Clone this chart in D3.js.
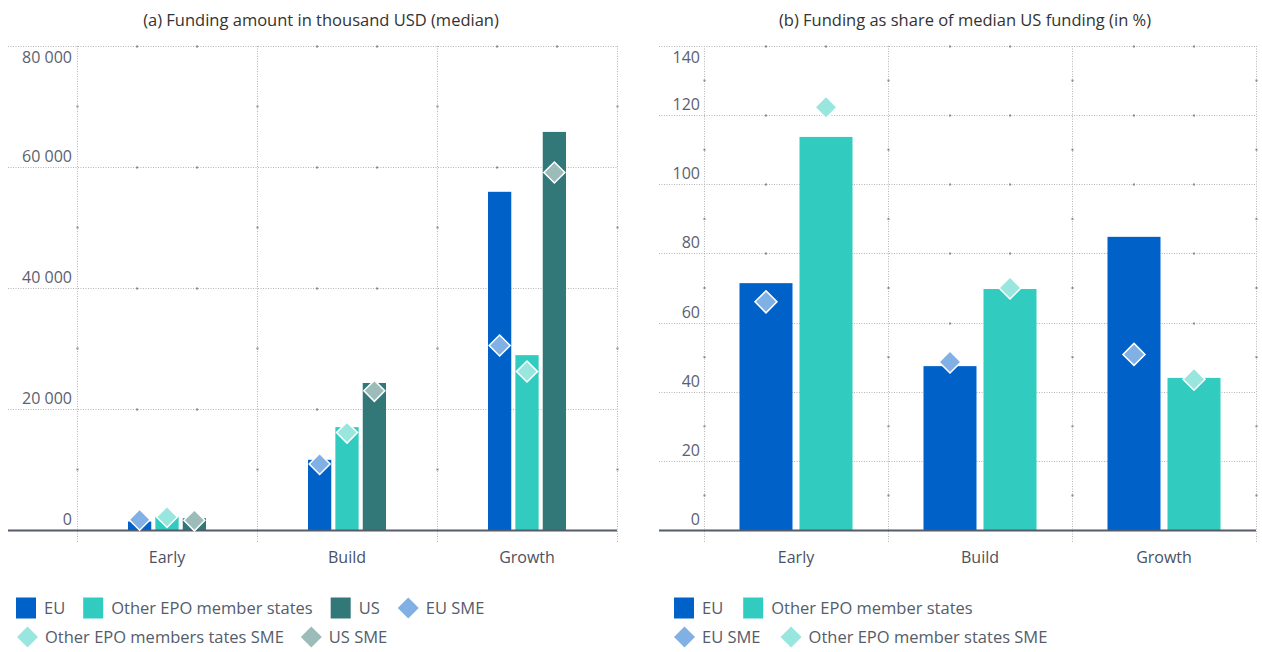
<!DOCTYPE html>
<html>
<head>
<meta charset="utf-8">
<script src="https://cdn.jsdelivr.net/npm/d3@7"></script>
<style>
  html, body { margin: 0; padding: 0; background: #fff; }
  svg { display: block; }
  text { font-family: "Open Sans", "Noto Sans", sans-serif; }
</style>
</head>
<body>
<svg id="chart" width="1262" height="652"></svg>
<script>
// ---------- DATA ----------
const categories = ["Early", "Build", "Growth"];

// Panel (a): funding amount in thousand USD (median)
const amountTicks = [0, 20000, 40000, 60000, 80000];
const euAmount = [1400, 11600, 55900];
const otherAmount = [2200, 17000, 28900];
const usAmount = [1950, 24300, 65800];
const euSmeAmount = [1700, 10900, 30500];
const otherSmeAmount = [2150, 16100, 26200];
const usSmeAmount = [1600, 23000, 59100];

// Panel (b): funding as share of median US funding (in %)
const shareTicks = [0, 20, 40, 60, 80, 100, 120, 140];
const euShare = [71.4, 47.4, 84.8];
const otherShare = [113.7, 69.7, 44.0];
const euSmeShare = [66.0, 48.6, 50.8];
const otherSmeShare = [122.3, 70.0, 43.6];

const titleA = "(a) Funding amount in thousand USD (median)";
const titleB = "(b) Funding as share of median US funding (in %)";
const legendA1 = ["EU", "Other EPO member states", "US", "EU SME"];
const legendA2 = ["Other EPO members tates SME", "US SME"];
const legendB1 = ["EU", "Other EPO member states"];
const legendB2 = ["EU SME", "Other EPO member states SME"];

// ---------- STYLE ----------
const C = {
  eu: "#0062c8", other: "#31cbbf", us: "#327878",
  euSme: "#80b0e4", otherSme: "#98e6de", usSme: "#9bbcb9",
  grid: "#b4b4b8", gridMark: "#8a8a90", base: "#555b68",
  tick: "#5a6170", title: "#333333", cat: "#4a5162", legend: "#555c6a"
};

const svg = d3.select("#chart");
const fmt = v => d3.format(",")(v).replace(/,/g, " ");

function diamond(size) {
  const s = size / Math.SQRT2;
  return d3.symbol().type(d3.symbolSquare).size(s * s)();
}

function panel(opts) {
  const g = svg.append("g");
  const y = d3.scaleLinear().domain(opts.domain).range([530, 46]);
  const x = d3.scaleBand().domain(categories).range(opts.xRange).padding(0);
  const inner = d3.scaleBand().domain(opts.series.map(s => s.key))
    .range(opts.innerRange).paddingInner(opts.innerPad).paddingOuter(0);

  // horizontal grid
  g.selectAll(".hgrid").data(opts.ticks.filter(t => t > 0)).join("line")
    .attr("x1", opts.gridLeft).attr("x2", opts.xRange[1])
    .attr("y1", d => Math.round(y(d)) + 0.5).attr("y2", d => Math.round(y(d)) + 0.5)
    .attr("stroke", C.grid).attr("stroke-width", 1).attr("stroke-dasharray", "1,1.5");

  // vertical grid at category boundaries
  const bounds = [opts.xRange[0]].concat(categories.map(c => x(c) + x.bandwidth()));
  g.selectAll(".vgrid").data(bounds).join("line")
    .attr("x1", d => Math.round(d) + 0.5).attr("x2", d => Math.round(d) + 0.5)
    .attr("y1", y(opts.domain[1])).attr("y2", 543)
    .attr("stroke", C.grid).attr("stroke-width", 1).attr("stroke-dasharray", "1,1.5");

  // small marks on grid lines
  const marksX = [];
  categories.forEach(c => { const cx = x(c) + x.bandwidth() / 2; marksX.push(cx - 30, cx + 30); });
  opts.ticks.filter(t => t > 0).forEach(t => {
    marksX.forEach(mx => g.append("rect").attr("x", mx - 1).attr("y", Math.round(y(t)) - 0.5)
      .attr("width", 2).attr("height", 2).attr("fill", C.gridMark));
  });
  for (let i = 0; i < opts.ticks.length - 1; i++) {
    const my = (y(opts.ticks[i]) + y(opts.ticks[i + 1])) / 2;
    bounds.forEach(bx => g.append("rect").attr("x", Math.round(bx) - 0.5).attr("y", my - 1)
      .attr("width", 2).attr("height", 2).attr("fill", C.gridMark));
  }

  // tick labels
  g.selectAll(".tl").data(opts.ticks).join("text")
    .attr("x", opts.labelX)
    .attr("y", (d, i) => i === opts.ticks.length - 1 ? y(d) + 17 : y(d) - 5)
    .attr("text-anchor", "end").attr("font-size", 16).attr("fill", C.tick)
    .text(d => fmt(d));

  // bars
  opts.series.forEach(s => {
    g.selectAll(null).data(s.values).join("rect")
      .attr("x", (d, i) => x(categories[i]) + x.bandwidth() / 2 + inner(s.key))
      .attr("y", d => y(d)).attr("width", inner.bandwidth())
      .attr("height", d => y(0) - y(d)).attr("fill", s.color);
  });

  // baseline
  g.append("line").attr("x1", opts.gridLeft).attr("x2", opts.xRange[1])
    .attr("y1", 530.5).attr("y2", 530.5).attr("stroke", C.base).attr("stroke-width", 2);

  // SME diamonds
  opts.sme.forEach(s => {
    g.selectAll(null).data(s.values).join("path")
      .attr("d", diamond(opts.dSize))
      .attr("transform", (d, i) => `translate(${x(categories[i]) + x.bandwidth() / 2 + inner(s.key) + inner.bandwidth() / 2},${y(d)}) rotate(45)`)
      .attr("fill", s.color).attr("stroke", "#fff").attr("stroke-width", 1.5);
  });

  // category labels
  g.selectAll(".cat").data(categories).join("text")
    .attr("x", d => x(d) + x.bandwidth() / 2).attr("y", 563)
    .attr("text-anchor", "middle").attr("font-size", 16).attr("fill", C.cat)
    .text(d => d);

  // title
  g.append("text").attr("x", opts.titleX).attr("y", 26).attr("text-anchor", "middle")
    .attr("font-size", 16.5).attr("fill", C.title).text(opts.title);
}

panel({
  domain: [0, 80000], ticks: amountTicks, xRange: [77, 617], gridLeft: 8, labelX: 72,
  innerRange: [-39, 39], innerPad: 0.15, dSize: 21, titleX: 321, title: titleA,
  series: [
    { key: "EU", values: euAmount, color: C.eu },
    { key: "Other", values: otherAmount, color: C.other },
    { key: "US", values: usAmount, color: C.us }
  ],
  sme: [
    { key: "EU", values: euSmeAmount, color: C.euSme },
    { key: "Other", values: otherSmeAmount, color: C.otherSme },
    { key: "US", values: usSmeAmount, color: C.usSme }
  ]
});

panel({
  domain: [0, 140], ticks: shareTicks, xRange: [704, 1256], gridLeft: 659, labelX: 700,
  innerRange: [-56.5, 56.5], innerPad: 0.1167, dSize: 22, titleX: 965, title: titleB,
  series: [
    { key: "EU", values: euShare, color: C.eu },
    { key: "Other", values: otherShare, color: C.other }
  ],
  sme: [
    { key: "EU", values: euSmeShare, color: C.euSme },
    { key: "Other", values: otherSmeShare, color: C.otherSme }
  ]
});

// ---------- LEGENDS ----------
function legendRow(x0, yc, labels, kinds, colors, gaps) {
  const g = svg.append("g");
  let x = x0;
  labels.forEach((lab, i) => {
    if (kinds[i] === "sq") {
      g.append("rect").attr("x", x).attr("y", yc - 10.5).attr("width", 20).attr("height", 21).attr("fill", colors[i]);
    } else {
      g.append("path").attr("d", diamond(21)).attr("transform", `translate(${x + 10.5},${yc}) rotate(45)`).attr("fill", colors[i]);
    }
    const t = g.append("text").attr("x", x + 28).attr("y", yc + 6).attr("font-size", 16.5)
      .attr("fill", C.legend).text(lab);
    x = x + 28 + t.node().getComputedTextLength() + gaps;
  });
}

legendRow(16, 608, legendA1, ["sq", "sq", "sq", "dm"], [C.eu, C.other, C.us, C.euSme], 18);
legendRow(17, 637, legendA2, ["dm", "dm"], [C.otherSme, C.usSme], 17);
legendRow(674, 608, legendB1, ["sq", "sq"], [C.eu, C.other], 20);
legendRow(674, 637, legendB2, ["dm", "dm"], [C.euSme, C.otherSme], 20);
</script>
</body>
</html>
